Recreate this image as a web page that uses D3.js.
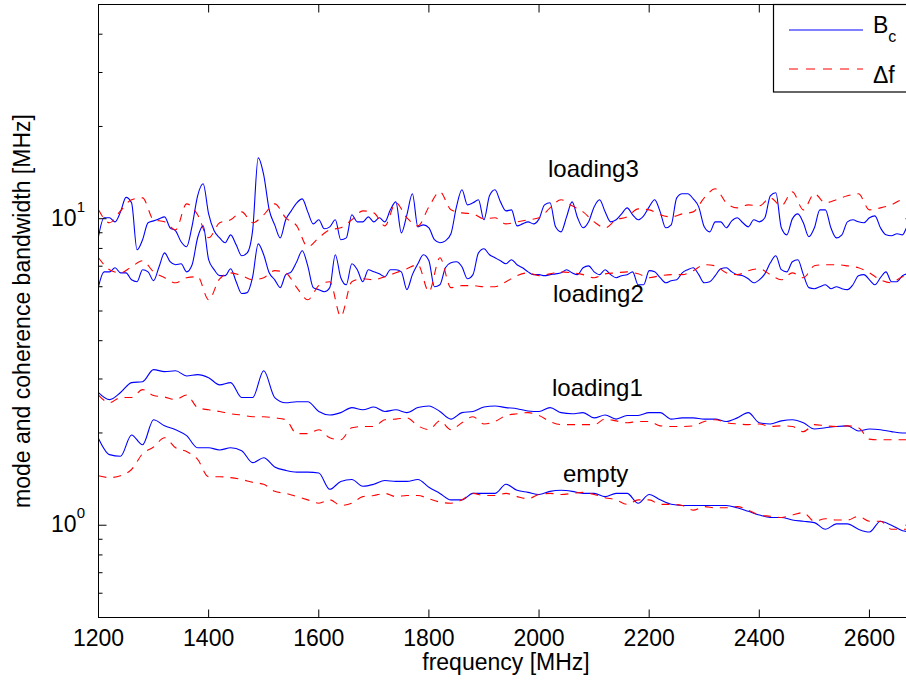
<!DOCTYPE html>
<html><head><meta charset="utf-8">
<script src="https://cdn.jsdelivr.net/npm/d3@7"></script>
<style>
html,body{margin:0;padding:0;background:#fff;overflow:hidden}
svg{display:block}
text{font-family:"Liberation Sans",Arial,Helvetica,sans-serif;fill:#000}
</style></head><body>
<svg id="chart" width="906" height="687"></svg>
<script>
// frequency grids [MHz]
const freqFine = [
1200,1210,1220,1230,1240,1250,1260,1270,1280,1290,
1300,1310,1320,1330,1340,1350,1360,1370,1380,1390,
1400,1410,1420,1430,1440,1450,1460,1470,1480,1490,
1500,1510,1520,1530,1540,1550,1560,1570,1580,1590,
1600,1610,1620,1630,1640,1650,1660,1670,1680,1690,
1700,1710,1720,1730,1740,1750,1760,1770,1780,1790,
1800,1810,1820,1830,1840,1850,1860,1870,1880,1890,
1900,1910,1920,1930,1940,1950,1960,1970,1980,1990,
2000,2010,2020,2030,2040,2050,2060,2070,2080,2090,
2100,2110,2120,2130,2140,2150,2160,2170,2180,2190,
2200,2210,2220,2230,2240,2250,2260,2270,2280,2290,
2300,2310,2320,2330,2340,2350,2360,2370,2380,2390,
2400,2410,2420,2430,2440,2450,2460,2470,2480,2490,
2500,2510,2520,2530,2540,2550,2560,2570,2580,2590,
2600,2610,2620,2630,2640,2650,2660,2670,2680];
const freqCoarse = [
1200,1220,1240,1260,1280,1300,1320,1340,1360,1380,
1400,1420,1440,1460,1480,1500,1520,1540,1560,1580,
1600,1620,1640,1660,1680,1700,1720,1740,1760,1780,
1800,1820,1840,1860,1880,1900,1920,1940,1960,1980,
2000,2020,2040,2060,2080,2100,2120,2140,2160,2180,
2200,2220,2240,2260,2280,2300,2320,2340,2360,2380,
2400,2420,2440,2460,2480,2500,2520,2540,2560,2580,
2600,2620,2640,2660,2680];

// loading3 : coherence bandwidth Bc (fine grid) and mode bandwidth Δf (coarse grid)
const loading3Bc = [
8.75,10.07,10.07,9.77,10.53,11.74,11.27,7.92,8.54,9.70,
9.84,9.99,10.14,9.34,9.13,8.41,8.10,9.48,11.88,13.0,
10.37,9.13,8.66,8.35,8.86,8.22,7.57,7.74,9.20,15.8,
13.9,10.69,9.55,8.66,9.92,10.61,11.27,11.61,10.53,9.62,
9.92,9.27,9.41,9.92,8.54,8.66,10.30,9.77,9.77,10.14,
9.77,10.07,9.77,10.69,11.35,8.99,10.30,12.06,9.41,9.55,
9.34,8.54,8.35,8.47,8.93,10.93,12.43,11.10,11.27,11.53,
9.92,11.88,12.43,11.35,10.61,10.69,9.48,9.62,9.77,9.62,
9.99,11.10,11.27,9.41,9.06,10.14,11.35,10.07,9.34,9.77,
10.93,11.53,10.53,9.77,9.92,10.37,10.85,10.30,9.92,10.22,
10.93,11.53,10.53,9.34,9.55,11.70,12.06,12.06,11.61,10.93,
9.41,9.06,9.77,9.77,9.34,9.84,10.07,9.70,9.41,9.92,
9.77,10.07,11.88,12.15,9.34,8.86,9.99,10.37,9.70,8.73,
9.34,10.69,10.69,9.34,8.66,8.86,9.77,9.92,9.77,9.70,
10.07,10.22,9.34,8.86,8.80,8.93,8.86,9.48,9.55];
const loading3Df = [
10.69,9.70,10.61,11.53,11.70,9.92,9.77,9.20,11.18,10.30,
8.67,9.70,9.92,10.53,9.70,10.30,11.18,10.07,9.48,8.10,
8.67,9.20,9.34,9.92,10.61,10.45,9.48,11.27,10.07,9.48,
10.93,12.24,10.69,10.45,10.37,9.99,10.07,9.62,9.77,9.92,
10.07,10.85,11.53,11.02,10.53,9.77,9.34,9.92,10.14,10.77,
10.69,10.30,10.14,10.37,10.53,11.70,12.52,11.27,10.85,11.10,
11.02,11.70,11.02,12.24,10.69,12.06,11.27,11.53,11.88,12.06,
10.69,10.85,11.10,11.53,11.10];

// loading2
const loading2Bc = [
6.01,6.71,6.71,6.92,6.66,6.66,6.32,6.23,6.82,6.71,
6.28,6.97,7.74,7.24,7.08,7.13,6.71,7.08,8.67,9.48,
7.35,6.82,6.52,6.52,6.87,6.23,5.70,5.74,6.47,8.28,
7.63,6.66,6.32,5.96,6.57,6.71,7.24,7.86,7.02,5.96,
5.87,5.78,5.96,7.63,6.42,6.09,7.13,6.82,6.23,6.82,
6.71,6.61,6.47,6.82,6.82,6.71,5.87,6.57,7.13,7.63,
7.29,6.00,6.09,6.92,7.18,7.24,6.97,6.37,6.57,7.74,
7.98,7.63,7.46,7.29,7.13,7.35,7.08,6.92,6.71,6.57,
6.57,6.52,6.57,6.61,6.66,6.82,6.66,6.57,6.92,7.02,
6.71,6.57,6.82,6.57,6.42,6.52,6.57,6.71,6.09,6.09,
6.77,6.71,6.42,6.18,6.28,6.32,6.66,6.82,6.92,6.57,
6.18,6.23,6.52,6.87,6.92,6.71,6.57,6.52,6.37,6.18,
6.32,6.61,7.18,7.57,6.82,6.71,7.24,7.35,6.57,5.96,
5.91,6.00,6.09,5.91,6.00,5.91,5.87,6.09,6.52,6.57,
6.32,6.09,6.42,6.71,6.23,6.23,6.52,6.61,6.42];
const loading2Df = [
7.46,6.82,6.66,6.97,7.29,6.71,6.42,6.18,6.42,6.47,
5.44,6.37,6.66,6.52,6.32,6.42,6.77,6.66,5.96,5.44,
6.05,6.23,4.80,6.23,6.37,6.32,6.47,6.66,6.87,7.08,
5.78,7.46,5.96,6.05,6.05,6.00,6.00,6.23,6.52,6.66,
6.52,6.61,6.71,6.66,6.57,6.42,6.61,6.66,6.71,6.61,
6.42,6.52,6.57,6.57,6.77,7.08,7.02,6.66,6.57,6.77,
6.87,6.57,6.32,6.66,6.42,7.02,7.08,7.08,7.02,6.92,
6.66,6.32,6.18,6.47,6.52];

// loading1
const loading1Bc = [
2.71,2.57,2.71,2.92,2.94,3.22,3.17,3.19,3.07,3.10,
3.03,2.87,2.92,2.61,2.61,3.19,2.61,2.51,2.53,2.53,
2.35,2.29,2.33,2.42,2.38,2.43,2.35,2.38,2.33,2.42,
2.45,2.35,2.22,2.33,2.35,2.43,2.45,2.42,2.40,2.36,
2.35,2.42,2.33,2.31,2.33,2.24,2.29,2.22,2.28,2.28,
2.33,2.33,2.22,2.24,2.24,2.22,2.22,2.18,2.24,2.33,
2.16,2.14,2.19,2.21,2.16,2.06,2.08,2.10,2.11,2.03,
2.06,2.05,2.02,2.00,2.00];
const loading1Df = [
2.66,2.51,2.61,2.61,2.77,2.65,2.62,2.57,2.66,2.42,
2.38,2.35,2.31,2.29,2.26,2.26,2.24,2.21,1.99,1.99,
2.05,1.93,1.90,2.08,2.10,2.10,2.21,2.22,2.24,2.11,
2.05,2.19,2.05,2.16,2.26,2.14,2.18,2.28,2.31,2.33,
2.28,2.18,2.13,2.13,2.13,2.13,2.22,2.19,2.16,2.18,
2.18,2.11,2.10,2.10,2.11,2.18,2.21,2.16,2.14,2.13,
2.14,2.10,2.11,2.10,2.02,2.13,2.11,2.10,2.11,2.08,
1.91,1.90,1.90,1.90,1.90];

// empty
const emptyBc = [
1.92,1.70,1.68,1.97,1.83,2.21,2.11,2.05,1.96,1.79,
1.79,1.76,1.79,1.75,1.60,1.66,1.55,1.51,1.49,1.49,
1.48,1.31,1.39,1.41,1.34,1.36,1.40,1.39,1.39,1.41,
1.33,1.27,1.21,1.21,1.27,1.27,1.27,1.36,1.30,1.28,
1.26,1.29,1.30,1.29,1.27,1.27,1.24,1.27,1.27,1.18,
1.26,1.21,1.17,1.16,1.16,1.16,1.16,1.16,1.14,1.11,
1.08,1.06,1.06,1.04,1.03,1.02,0.97,1.01,1.01,0.97,
0.95,1.03,1.00,0.96,0.95];
const emptyDf = [
1.45,1.43,1.45,1.52,1.71,1.80,1.93,1.79,1.74,1.64,
1.44,1.44,1.43,1.41,1.38,1.36,1.29,1.27,1.24,1.21,
1.18,1.21,1.16,1.18,1.24,1.25,1.27,1.24,1.25,1.25,
1.22,1.19,1.18,1.21,1.27,1.25,1.25,1.27,1.24,1.22,
1.26,1.27,1.26,1.27,1.28,1.26,1.23,1.21,1.17,1.21,
1.21,1.17,1.17,1.16,1.12,1.15,1.14,1.14,1.15,1.12,
1.08,1.07,1.06,1.08,1.10,1.03,1.05,1.04,1.04,1.07,
1.03,1.03,0.97,0.97,0.97];

const xTicks = [1200,1400,1600,1800,2000,2200,2400,2600];
const yMajorTicks = [1, 10];
const yMinorTicks = [0.6,0.7,0.8,0.9,2,3,4,5,6,7,8,9,20,30,40];
const curveLabels = ["loading3","loading2","loading1","empty"];
const legendLabels = ["B","c","\u0394f"];
const xTitle = "frequency [MHz]";
const yTitle = "mode and coherence bandwidth [MHz]";

const series = [
  {f: freqFine,   v: loading3Bc, kind: "Bc"},
  {f: freqCoarse, v: loading3Df, kind: "Df"},
  {f: freqFine,   v: loading2Bc, kind: "Bc"},
  {f: freqCoarse, v: loading2Df, kind: "Df"},
  {f: freqCoarse, v: loading1Bc, kind: "Bc"},
  {f: freqCoarse, v: loading1Df, kind: "Df"},
  {f: freqCoarse, v: emptyBc,    kind: "Bc"},
  {f: freqCoarse, v: emptyDf,    kind: "Df"}
];

const FONT = '"Liberation Sans", Arial, Helvetica, sans-serif';
const BLUE = "#0000ff", RED = "#ff0000", DASH = "8,7";

const svg = d3.select("#chart");
const L = 98.5, R = 913.5, T = 4.5, B = 617.5;
const x = d3.scaleLinear().domain([1200, 2680]).range([L, R]);
const y = d3.scaleLog().domain([0.5, 50]).range([B, T]);

svg.append("rect").attr("width",906).attr("height",687).attr("fill","#fff");

svg.append("clipPath").attr("id","clip").append("rect")
  .attr("x",L).attr("y",T).attr("width",R-L).attr("height",B-T);

// data lines
const line = d3.line().x(d => x(d[0])).y(d => y(d[1])).curve(d3.curveMonotoneX);
const gLines = svg.append("g").attr("clip-path","url(#clip)");
series.forEach(s => {
  const pts = s.f.map((f,i) => [f, s.v[i]]);
  gLines.append("path").datum(pts)
    .attr("d", line)
    .attr("fill","none")
    .attr("stroke", s.kind === "Bc" ? BLUE : RED)
    .attr("stroke-width", 1.1)
    .attr("stroke-dasharray", s.kind === "Bc" ? null : DASH)
    .attr("stroke-linejoin","round");
});

// axes
function styleAxis(g){
  g.select(".domain").remove();
  g.selectAll(".tick line").attr("stroke","#000").attr("stroke-width",1);
}
const gxB = svg.append("g").attr("transform",`translate(0,${B})`)
  .call(d3.axisBottom(x).tickValues(xTicks).tickSizeInner(-8).tickSizeOuter(0)
        .tickPadding(12).tickFormat(d3.format("d")).offset(0));
gxB.attr("font-family", FONT).attr("font-size", 23);
styleAxis(gxB);
gxB.selectAll("text").attr("fill","#000");
const gxT = svg.append("g").attr("transform",`translate(0,${T})`)
  .call(d3.axisTop(x).tickValues(xTicks).tickSizeInner(-8).tickSizeOuter(0)
        .tickFormat(() => "").offset(0));
styleAxis(gxT);

[[L, d3.axisLeft], [R, d3.axisRight]].forEach(([px, ax]) => {
  const gMaj = svg.append("g").attr("transform",`translate(${px},0)`)
    .call(ax(y).tickValues(yMajorTicks).tickSizeInner(-8).tickSizeOuter(0).tickFormat(() => "").offset(0));
  styleAxis(gMaj);
  const gMin = svg.append("g").attr("transform",`translate(${px},0)`)
    .call(ax(y).tickValues(yMinorTicks).tickSizeInner(-4).tickSizeOuter(0).tickFormat(() => "").offset(0));
  styleAxis(gMin);
});

// frame
svg.append("rect").attr("x",L).attr("y",T).attr("width",R-L).attr("height",B-T)
  .attr("fill","none").attr("stroke","#000").attr("stroke-width",1);

// y tick labels 10^n
svg.append("g").selectAll("text").data(yMajorTicks).join("text")
  .attr("x", 85).attr("y", d => y(d) + 7)
  .attr("text-anchor","end").attr("font-size",23)
  .each(function(d){
    const t = d3.select(this);
    t.append("tspan").text("10");
    t.append("tspan").attr("font-size",15).attr("dy",-14).text(Math.round(Math.log10(d)));
  });

// axis titles
svg.append("text").attr("x",(L+R)/2).attr("y",670).attr("text-anchor","middle")
  .attr("font-size",23).text(xTitle);
svg.append("text").attr("transform",`translate(30,${(T+B)/2}) rotate(-90)`)
  .attr("text-anchor","middle").attr("font-size",23).text(yTitle);

// curve labels
const labelPos = [[548,177],[553,302],[552,396],[563,482]];
svg.append("g").selectAll("text").data(curveLabels).join("text")
  .attr("x",(d,i)=>labelPos[i][0]).attr("y",(d,i)=>labelPos[i][1])
  .attr("font-size",24).text(d=>d);

// legend
const lg = svg.append("g");
lg.append("rect").attr("x",773.5).attr("y",T).attr("width",140).attr("height",87.5)
  .attr("fill","#fff").attr("stroke","#000").attr("stroke-width",1.2);
lg.append("line").attr("x1",789).attr("x2",863).attr("y1",30).attr("y2",30)
  .attr("stroke",BLUE).attr("stroke-width",1.1);
lg.append("line").attr("x1",789).attr("x2",863).attr("y1",69).attr("y2",69)
  .attr("stroke",RED).attr("stroke-width",1.1).attr("stroke-dasharray","9,8");
const t1 = lg.append("text").attr("x",873).attr("y",33).attr("font-size",23);
t1.append("tspan").text(legendLabels[0]);
t1.append("tspan").attr("font-size",16).attr("dy",9).text(legendLabels[1]);
lg.append("text").attr("x",873).attr("y",83).attr("font-size",23).text(legendLabels[2]);
</script>
</body></html>
